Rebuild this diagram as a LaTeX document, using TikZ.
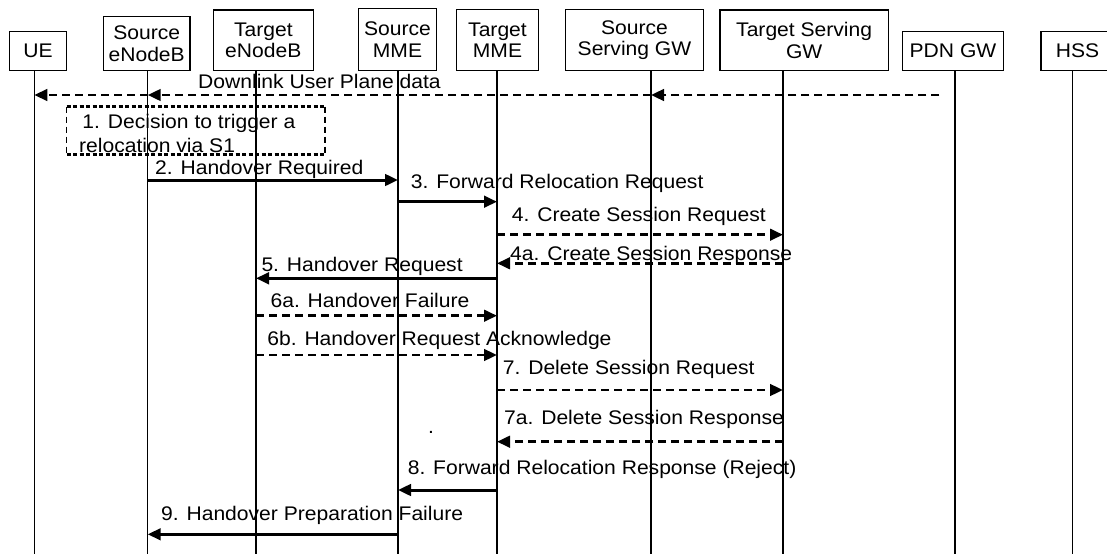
\documentclass[tikz,border=0pt]{standalone}
\usepackage{fontspec}
\setmainfont{Liberation Sans}[FakeStretch=1.07]
\usetikzlibrary{arrows.meta}

\begin{document}
\begin{tikzpicture}[x=1pt, y=-1pt, >={Triangle[length=13pt,width=11.5pt]},
    font=\fontsize{19.7}{23.3}\selectfont,
    ent/.style={draw, line width=1.3pt, inner sep=0pt, align=center, font=\fontsize{19.7}{21.5}\selectfont},
    life/.style={line width=1.3pt},
    msg/.style={->, line width=3pt},
    dmsg/.style={->, line width=2.8pt, dash pattern=on 8pt off 5pt},
    dotedge/.style={line width=3pt, dash pattern=on 4pt off 2.5pt},
    dashedge/.style={line width=1.2pt, dash pattern=on 6pt off 4pt},
    lbl/.style={anchor=base west, inner sep=0pt}]
    \useasboundingbox (0,0) rectangle (1107,554);

    % 实体方框
    \node[ent, minimum width=57.4pt, minimum height=39pt] (UEbox) at (38,51.2) {UE};
    \node[ent, minimum width=86.7pt, minimum height=54pt] (SNBbox) at (146.7,43.7) {Source\\eNodeB};
    \node[ent, minimum width=100pt, minimum height=60.7pt] (TNBbox) at (263.3,40.35) {Target\\eNodeB};
    \node[ent, minimum width=78.4pt, minimum height=62.4pt] (SMMEbox) at (397.5,39.5) {Source\\MME};
    \node[ent, minimum width=81.6pt, minimum height=61.2pt] (TMMEbox) at (497.5,40.1) {Target\\MME};
    \node[ent, minimum width=137.6pt, minimum height=61.4pt] (SSGWbox) at (634.5,40) {Source\\Serving GW};
    \node[ent, minimum width=168.3pt, minimum height=60.7pt] (TSGWbox) at (804.15,40.35) {Target Serving\\GW};
    \node[ent, minimum width=101.3pt, minimum height=39pt] (PDNbox) at (953,51.2) {PDN GW};
    \node[ent, minimum width=73pt, minimum height=39pt] (HSSbox) at (1077.5,51.2) {HSS};

    % 生命线
    \foreach \n/\x in {ue/34.3, snb/147.7, tnb/256, smme/398, tmme/497, ssgw/651, tsgw/783, pdn/955, hss/1072.7}
      {\coordinate (\n) at (\x,70.7);
       \draw[life] (\n) -- (\n |- 0,554);}

    % 下行用户面数据
    \coordinate (dl) at (939.3,95);
    \draw[dmsg] (dl) -- (ssgw |- dl);
    \draw[dmsg] (ssgw |- dl) -- (snb |- dl);
    \draw[dmsg] (snb |- dl) -- (ue |- dl);
    \node[lbl] (dlT) at (198,88.7) {Downlink User Plane data};

    % 步骤 1 的虚线框
    \coordinate (b1) at (66.7,106.7);
    \coordinate (b2) at (325,154);
    \draw[dotedge] (b1) -- (b2 |- b1);
    \draw[dotedge] (b1 |- b2) -- (b2);
    \draw[dashedge] (b1) -- (b1 |- b2);
    \draw[dashedge] (b2 |- b1) -- (b2);
    \node[anchor=north west, inner sep=0pt, align=left] (s1) at (79,114.5) {\,1. Decision to trigger a\\relocation via S1};

    % 消息
    \draw[msg] (snb |- 0,180) -- (smme |- 0,180);
    \node[lbl] (s2) at (155,174) {2. Handover Required};
    \draw[msg] (smme |- 0,201.7) -- (tmme |- 0,201.7);
    \node[lbl] (s3) at (410.7,188) {3. Forward Relocation Request};
    \draw[dmsg] (tmme |- 0,234.7) -- (tsgw |- 0,234.7);
    \node[lbl] (s4) at (511.7,221) {4. Create Session Request};
    \draw[dmsg] (tsgw |- 0,263.3) -- (tmme |- 0,263.3);
    \node[lbl] (s4a) at (510,260) {4a. Create Session Response};
    \draw[msg] (tmme |- 0,278.3) -- (tnb |- 0,278.3);
    \node[lbl] (s5) at (261.3,271.3) {5. Handover Request};
    \draw[dmsg] (tnb |- 0,315.7) -- (tmme |- 0,315.7);
    \node[lbl] (s6a) at (270.4,307.3) {6a. Handover Failure};
    \draw[dmsg] (tnb |- 0,355) -- (tmme |- 0,355);
    \node[lbl] (s6b) at (267.2,345.5) {6b. Handover Request Acknowledge};
    \draw[dmsg] (tmme |- 0,390) -- (tsgw |- 0,390);
    \node[lbl] (s7) at (502.7,374) {7. Delete Session Request};
    \draw[dmsg] (tsgw |- 0,441.7) -- (tmme |- 0,441.7);
    \node[lbl] (s7a) at (504,424) {7a. Delete Session Response};
    \node[lbl] (dot) at (428,433) {.};
    \draw[msg] (tmme |- 0,490) -- (smme |- 0,490);
    \node[lbl] (s8) at (407.6,474) {8. Forward Relocation Response (Reject)};
    \draw[msg] (smme |- 0,534.3) -- (snb |- 0,534.3);
    \node[lbl] (s9) at (161,520) {9. Handover Preparation Failure};
\end{tikzpicture}
\end{document}
